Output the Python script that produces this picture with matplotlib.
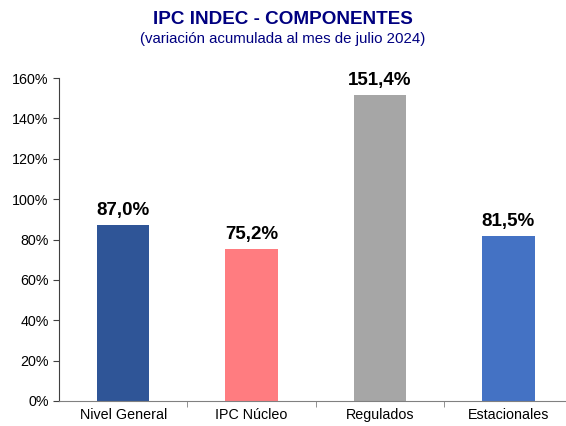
import numpy as np
import matplotlib.pyplot as plt
from matplotlib.ticker import FuncFormatter

plt.rcParams['font.family'] = ['Liberation Sans', 'DejaVu Sans']

categorias = ["Nivel General", "IPC Núcleo", "Regulados", "Estacionales"]
valores = [87.0, 75.2, 151.4, 81.5]
colores = ["#2F5597", "#FF7C80", "#A6A6A6", "#4472C4"]

fig = plt.figure(figsize=(5.66, 4.26), dpi=100)
ax = fig.add_axes([59/566, 25/426, 507/566, 323/426])

x = np.arange(len(categorias))
ax.bar(x, valores, width=0.41, color=colores)

for xi, v in zip(x, valores):
    ax.text(xi, v + 3, f"{v:.1f}%".replace(".", ","), ha="center", va="bottom",
            fontsize=13.5, fontweight="bold")

ax.set_ylim(0, 160)
ax.set_xlim(-0.5, 3.45)
ax.set_yticks(np.arange(0, 161, 20))
ax.yaxis.set_major_formatter(FuncFormatter(lambda v, p: f"{v:.0f}%"))
ax.set_xticks(x)
ax.set_xticklabels(categorias)
ax.set_xticks([0.5, 1.5, 2.5], minor=True)
ax.tick_params(axis="x", which="major", length=0, labelsize=10.3, pad=5)
ax.tick_params(axis="x", which="minor", length=4, color="#808080")
ax.tick_params(axis="y", length=4, labelsize=10.3, color="#404040")

for s in ["top", "right"]:
    ax.spines[s].set_visible(False)
ax.spines["left"].set_color("#404040")
ax.spines["bottom"].set_color("#808080")

fig.text(0.5, 0.955, "IPC INDEC - COMPONENTES", ha="center", va="center",
         fontsize=13.6, fontweight="bold", color="#000080")
fig.text(0.5, 0.909, "(variación acumulada al mes de julio 2024)", ha="center",
         va="center", fontsize=10.8, color="#000080")

fig.savefig("out.png", dpi=100)
